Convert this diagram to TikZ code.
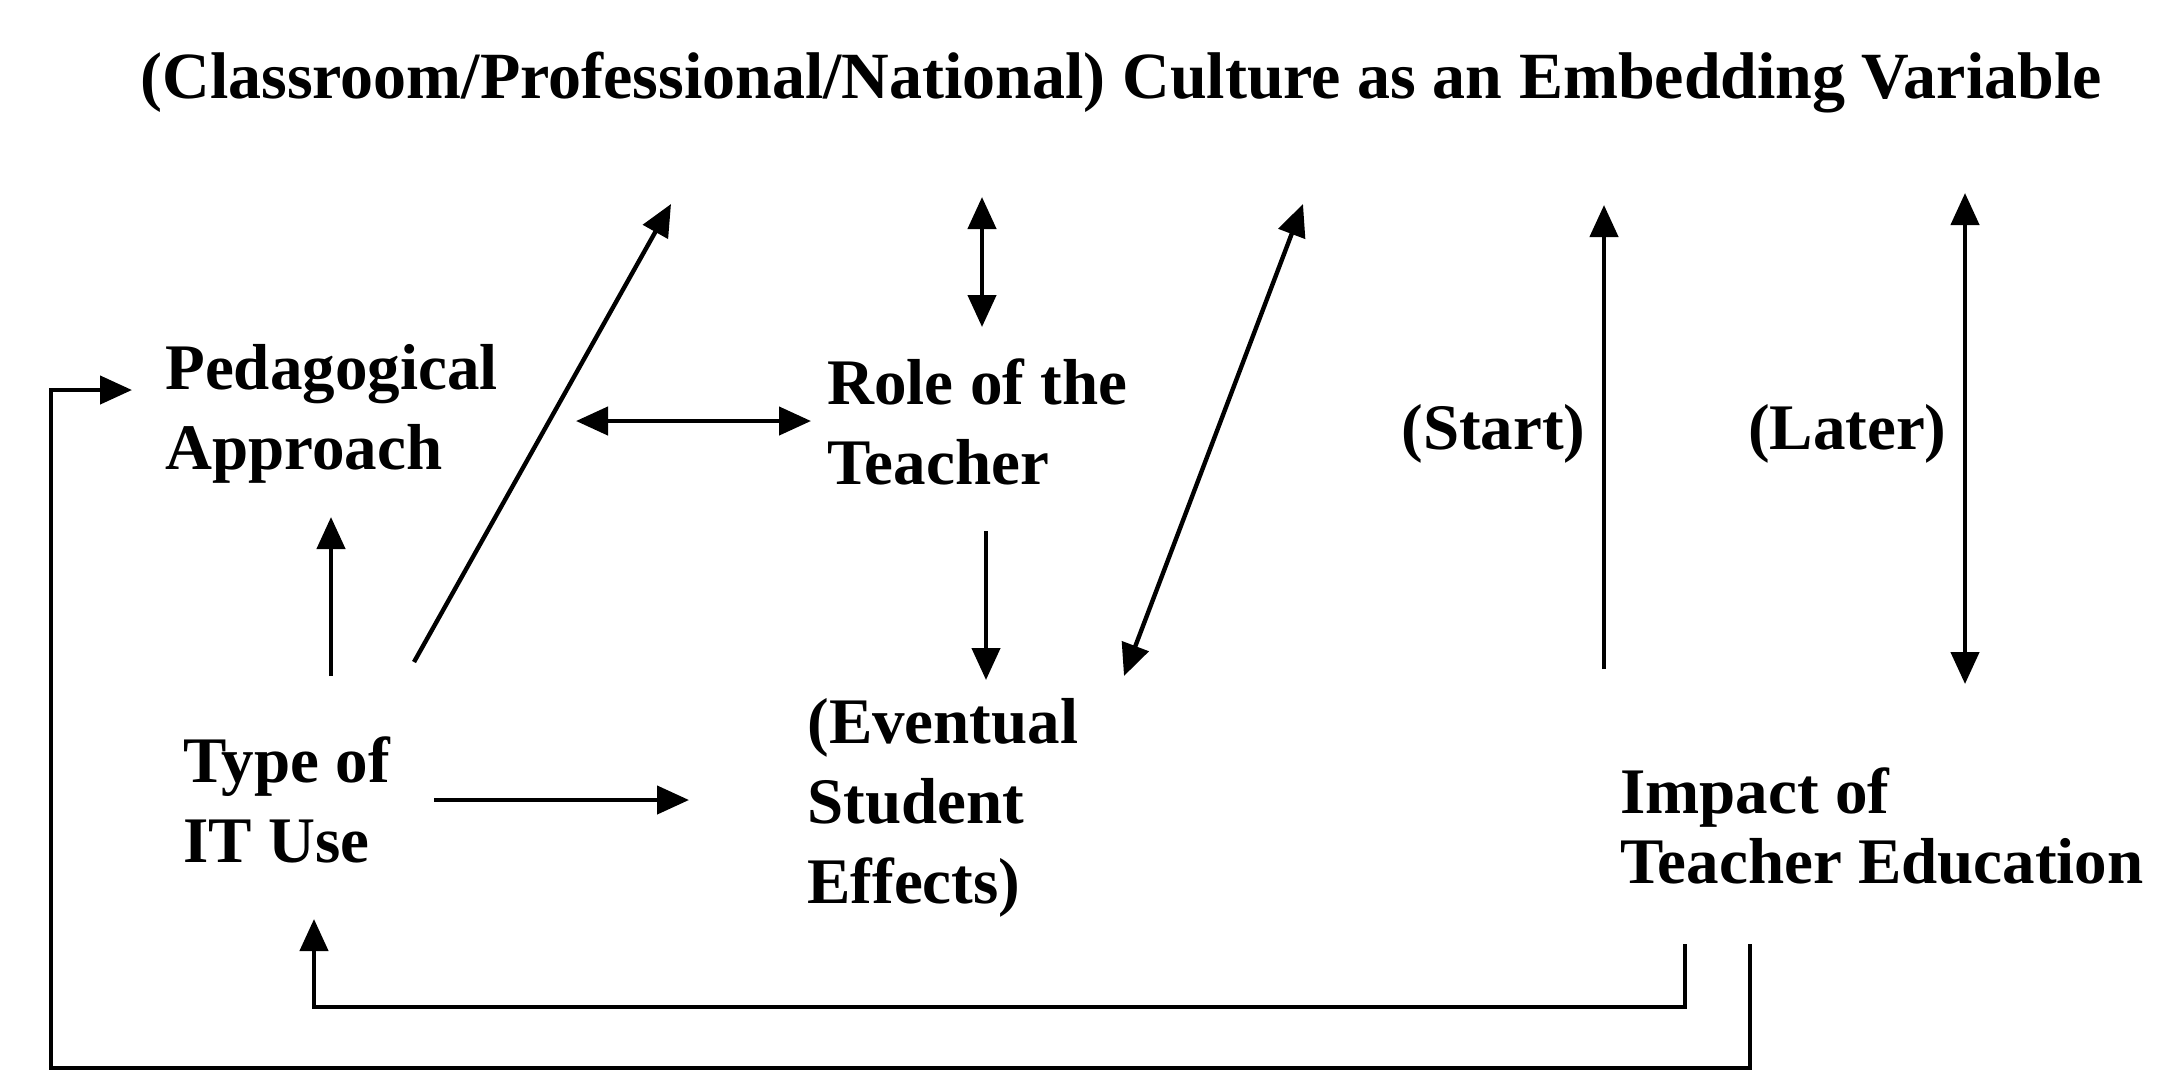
\documentclass[tikz,border=0pt]{standalone}
\usepackage{fontspec}
\setmainfont{Liberation Serif}
\usetikzlibrary{arrows.meta}
\begin{document}
\begin{tikzpicture}[x=0.5pt,y=-0.5pt,
  lbl/.style={font=\bfseries\fontsize{32.5}{40}\selectfont, align=left, inner sep=0pt, anchor=west},
  titlelbl/.style={font=\bfseries\fontsize{33}{40}\selectfont, inner sep=0pt, anchor=center},
  conn/.style={line width=2.2pt, line cap=butt},
  tip/.style={-{Triangle[length=16pt,width=14pt]}},
  arr/.style={conn,tip},
  darr/.style={conn,{Triangle[length=16pt,width=14pt]}-{Triangle[length=16pt,width=14pt]}}]
\useasboundingbox (0,0) rectangle (2162,1073);
% texts
\node[titlelbl] (title) at (1121,83) {(Classroom/Professional/National) Culture as an Embedding Variable};
\node[lbl] (ped) at (165,414) {Pedagogical\\Approach};
\node[lbl] (role) at (827,422) {Role of the\\Teacher};
\node[lbl] (type) at (183,800) {Type of\\IT Use};
\node[lbl] (eff) at (807,808) {(Eventual\\Student\\Effects)};
\node[lbl,font=\bfseries\fontsize{32.5}{35}\selectfont] (imp) at (1620,826) {Impact of\\Teacher Education};
\node[lbl,anchor=east] (start) at (1586,434) {(Start)};
\node[lbl,anchor=east] (later) at (1947,434) {(Later)};
% coordinates
\coordinate (d1a) at (414,662);  \coordinate (d1b) at (671,204);
\coordinate (v1a) at (982,197);  \coordinate (v1b) at (982,327);
\coordinate (d2a) at (1303,204); \coordinate (d2b) at (1124,676);
\coordinate (sa) at (1604,669);  \coordinate (sb) at (1604,205);
\coordinate (la) at (1965,193);  \coordinate (lb) at (1965,684);
\coordinate (ha) at (576,421);   \coordinate (hb) at (811,421);
\coordinate (pa) at (331,676);   \coordinate (pb) at (331,517);
\coordinate (ra) at (986,531);   \coordinate (rb) at (986,680);
\coordinate (ta) at (434,800);   \coordinate (tb) at (689,800);
\coordinate (l1a) at (1685,944); \coordinate (l1b) at (1685,1007);
\coordinate (l1c) at (314,1007); \coordinate (l1d) at (314,919);
\coordinate (l2a) at (1750,944); \coordinate (l2b) at (1750,1068);
\coordinate (l2c) at (51,1068);  \coordinate (l2d) at (51,390);
\coordinate (l2e) at (132,390);
% connectors
\draw[arr] (d1a) -- (d1b);
\draw[darr] (v1a) -- (v1b);
\draw[darr] (d2a) -- (d2b);
\draw[arr] (sa) -- (sb);
\draw[darr] (la) -- (lb);
\draw[darr] (ha) -- (hb);
\draw[arr] (pa) -- (pb);
\draw[arr] (ra) -- (rb);
\draw[arr] (ta) -- (tb);
\draw[arr] (l1a) -- (l1b) -- (l1c) -- (l1d);
\draw[arr] (l2a) -- (l2b) -- (l2c) -- (l2d) -- (l2e);
\end{tikzpicture}
\end{document}
